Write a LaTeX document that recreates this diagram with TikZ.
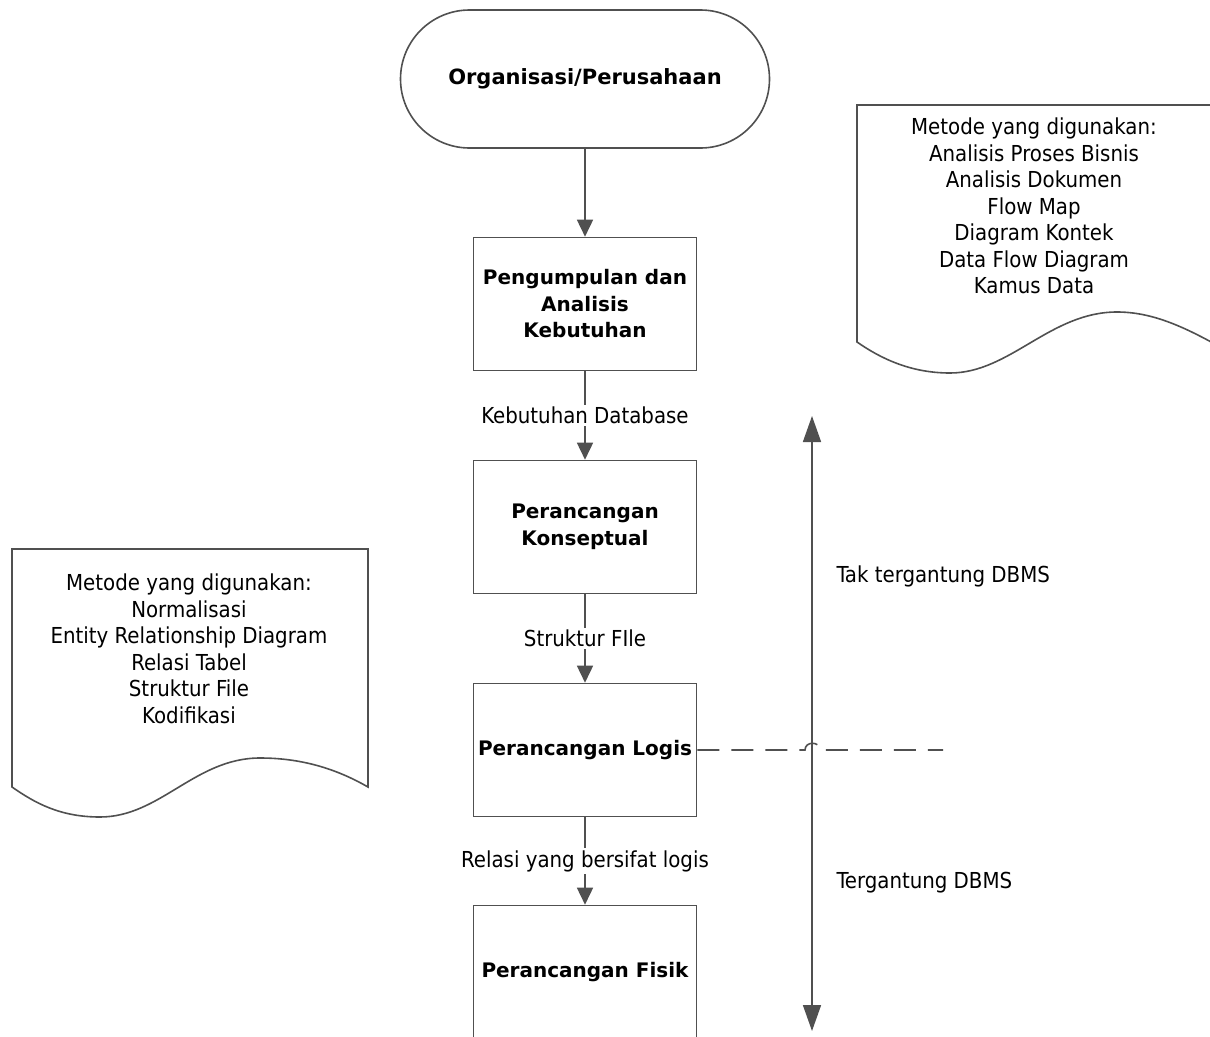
\documentclass[tikz,border=0pt]{standalone}
\usepackage{fontspec}
\setmainfont{DejaVu Sans Condensed}[BoldFont={DejaVu Sans Bold}]
\usetikzlibrary{arrows.meta}
\definecolor{linegray}{RGB}{80,80,80}

\begin{document}
\begin{tikzpicture}[x=1pt,y=-1pt,
    every node/.style={font=\fontsize{22}{26.5}\selectfont},
    stepbox/.style={draw=linegray,line width=1.6pt,fill=white,minimum width=223pt,
      minimum height=133pt,inner sep=0pt,align=center,font=\fontsize{20}{26.5}\selectfont\bfseries},
    terminal/.style={stepbox,minimum width=369pt,minimum height=138pt,rounded corners=69pt},
    flow/.style={draw=linegray,line width=1.6pt,-{Triangle[width=16pt,length=17pt]}},
    flowlabel/.style={fill=white,inner sep=2pt},
    docline/.style={draw=linegray,line width=1.6pt}]
  \clip (0,0) rectangle (1210,1036);
  % main flow
  \node (org) [terminal] at (585,79) {\fontsize{21}{26.5}\selectfont Organisasi/Perusahaan};
  \node (kebutuhan) [stepbox] at (585,304) {Pengumpulan dan\\Analisis\\Kebutuhan};
  \node (konseptual) [stepbox] at (585,527) {Perancangan\\Konseptual};
  \node (logis) [stepbox] at (585,750) {Perancangan Logis};
  \node (fisik) [stepbox] at (585,972) {Perancangan Fisik};
  \draw [flow] (org) -- (kebutuhan);
  \draw [flow] (kebutuhan) -- node [flowlabel] {Kebutuhan Database} (konseptual);
  \draw [flow] (konseptual) -- node [flowlabel] {Struktur FIle} (logis);
  \draw [flow] (logis) -- node [flowlabel] {Relasi yang bersifat logis} (fisik);
  % dbms range
  \coordinate (dbmstop) at (812,416);
  \coordinate (dbmsbot) at (812,1031);
  \draw [draw=linegray,line width=1.6pt,
    {Triangle[width=18pt,length=26pt]}-{Triangle[width=18pt,length=26pt]}] (dbmstop) -- (dbmsbot);
  \coordinate (hopin) at (805,750);
  \coordinate (hopout) at (820,750);
  \coordinate (dashend) at (943,750);
  \draw [draw=linegray,line width=1.6pt,dash pattern=on 22pt off 12pt]
    (logis.east) -- (hopin) .. controls (805,741) and (820,741) .. (hopout) -- (dashend);
  \node (tak) [anchor=west] at (833,576) {Tak tergantung DBMS};
  \node (tergantung) [anchor=west] at (833,883) {Tergantung DBMS};
  % document notes
  \draw [docline] (857,342) -- (857,105) -- (1213,105) -- (1213,343)
    .. controls (1180,325) and (1150,312) .. (1117,312)
    .. controls (1050,312) and (1010,373) .. (950,373)
    .. controls (910,373) and (880,358) .. cycle;
  \node (metodeR) [align=center] at (1034,206) {Metode yang digunakan:\\Analisis Proses Bisnis\\Analisis Dokumen\\Flow Map\\Diagram Kontek\\Data Flow Diagram\\Kamus Data};
  \draw [docline] (12,787) -- (12,549) -- (368,549) -- (368,787)
    .. controls (335,768) and (300,758) .. (260,758)
    .. controls (195,758) and (160,817) .. (100,817)
    .. controls (60,817) and (35,803) .. cycle;
  \node (metodeL) [align=center] at (189,649) {Metode yang digunakan:\\Normalisasi\\Entity Relationship Diagram\\Relasi Tabel\\Struktur File\\Kodifikasi};
\end{tikzpicture}
\end{document}
